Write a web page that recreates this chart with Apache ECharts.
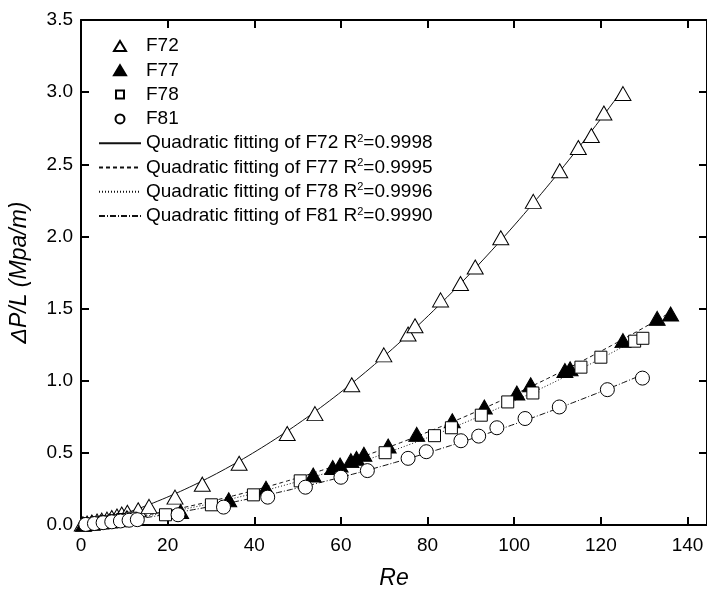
<!DOCTYPE html>
<html><head><meta charset="utf-8">
<script src="https://cdn.jsdelivr.net/npm/echarts@6/dist/echarts.min.js"></script>
<style>html,body{margin:0;padding:0;background:#fff}#c{width:707px;height:595px}</style>
</head><body><div id="c"></div>
<script>
// Data
const re72 = [0.3,1.4,2.5,3.7,4.8,6.0,7.1,8.3,9.4,10.7,13.2,15.7,21.7,28.0,36.5,47.6,54.0,62.5,69.9,75.5,77.1,83.0,87.6,91.0,96.9,104.4,110.5,114.8,117.8,120.7,125.1];
const dp72 = [0.007,0.014,0.021,0.028,0.034,0.041,0.052,0.062,0.076,0.088,0.106,0.129,0.193,0.283,0.428,0.634,0.772,0.972,1.179,1.324,1.381,1.56,1.674,1.788,1.991,2.243,2.455,2.616,2.70,2.855,2.99];
const re77 = [0.6,2.6,4.6,6.6,8.6,10.6,23.0,34.1,42.7,53.6,58.1,59.8,62.3,63.6,65.3,70.9,77.5,85.7,93.1,100.6,103.8,111.7,112.9,125.1,133.0,136.1];
const dp77 = [0.005,0.012,0.02,0.028,0.036,0.05,0.094,0.175,0.255,0.347,0.398,0.416,0.446,0.462,0.490,0.547,0.628,0.722,0.818,0.915,0.972,1.071,1.083,1.278,1.432,1.462];
const re78 = [1.6,3.6,5.6,7.6,9.6,11.6,19.5,30.1,39.8,50.6,70.2,81.6,85.5,92.4,98.5,104.3,115.4,120.0,127.8,129.7];
const dp78 = [0.008,0.015,0.022,0.03,0.038,0.047,0.071,0.140,0.209,0.306,0.501,0.619,0.674,0.761,0.853,0.915,1.094,1.163,1.274,1.294];
const re81 = [1.1,3.1,5.1,7.1,9.1,11.1,13.0,22.4,32.9,43.1,51.8,60.0,66.1,75.5,79.7,87.7,91.8,96.0,102.5,110.4,121.5,129.6];
const dp81 = [0.004,0.01,0.016,0.022,0.028,0.033,0.037,0.071,0.124,0.193,0.262,0.331,0.377,0.462,0.508,0.584,0.616,0.674,0.738,0.818,0.938,1.018];
const seriesNames = ['F72','F77','F78','F81'];
const r2Labels = ['0.9998','0.9995','0.9996','0.9990'];
const xTicks = [0,20,40,60,80,100,120,140];
const yTicks = [0,0.5,1,1.5,2,2.5,3,3.5];

// quadratic least-squares fit of the data (as stated in the legend)
function quadFit(xs, ys){
  let S=[0,0,0,0,0], T=[0,0,0];
  for(let i=0;i<xs.length;i++){
    const x=xs[i], y=ys[i];
    let p=1;
    for(let k=0;k<5;k++){S[k]+=p; if(k<3) T[k]+=p*y; p*=x;}
  }
  const A=[[S[0],S[1],S[2],T[0]],[S[1],S[2],S[3],T[1]],[S[2],S[3],S[4],T[2]]];
  for(let i=0;i<3;i++){
    for(let j=i+1;j<3;j++){const f=A[j][i]/A[i][i]; for(let k=i;k<4;k++)A[j][k]-=f*A[i][k];}
  }
  const c=[0,0,0];
  for(let i=2;i>=0;i--){let s=A[i][3]; for(let k=i+1;k<3;k++)s-=A[i][k]*c[k]; c[i]=s/A[i][i];}
  const xmax=Math.max(...xs), pts=[];
  for(let i=0;i<=120;i++){const x=xmax*i/120; pts.push([x,c[0]+c[1]*x+c[2]*x*x]);}
  return pts;
}
const zip=(a,b)=>a.map((v,i)=>[v,b[i]]);
const sets=[[re72,dp72],[re77,dp77],[re78,dp78],[re81,dp81]];
const symbols=['triangle','triangle','rect','circle'];
const fills=['#fff','#000','#fff','#fff'];
const sizes=[[16,14],[16,14],12,14];
const dashes=['solid',[4,3],[1,2],[6,2,1,2]];
const legendIcons=[
  'path://M0,0M14,14M7,2L13,12L1,12Z',
  'path://M0,0M14,14M7,2L13,12L1,12Z',
  'path://M0,0M14,14M3,3L11,3L11,11L3,11Z',
  'path://M0,0M14,14M2.5,7A4.5,4.5,0,1,1,11.5,7A4.5,4.5,0,1,1,2.5,7Z'
];

const series=[];
sets.forEach((s,i)=>{
  series.push({name:seriesNames[i],type:'scatter',data:zip(s[0],s[1]),symbol:symbols[i],symbolSize:sizes[i],
    itemStyle:{color:fills[i],borderColor:'#000',borderWidth:1,opacity:1},z:5});
});
sets.forEach((s,i)=>{
  series.push({name:'fit'+seriesNames[i],type:'line',data:quadFit(s[0],s[1]),showSymbol:false,symbol:'none',
    lineStyle:{color:'#111',width:1,type:dashes[i]},itemStyle:{color:'rgba(0,0,0,0)'},z:3,silent:true});
});

const legendData=[];
seriesNames.forEach((n,i)=>legendData.push({name:n,icon:legendIcons[i]}));
seriesNames.forEach((n,i)=>legendData.push({name:'fit'+n,itemStyle:{opacity:0}}));

const FF='Liberation Sans, Arial, sans-serif';
const chart=echarts.init(document.getElementById('c'));
const axisFont={fontFamily:FF,fontSize:19,color:'#000'};
chart.setOption({
  animation:false,
  backgroundColor:'#fff',
  grid:{left:81,top:20,bottom:68.5,right:-1.5,containLabel:false},
  legend:{
    orient:'vertical',left:98,top:36,padding:0,itemWidth:42,itemHeight:14,itemGap:4.3,itemTextGap:8,
    symbolKeepAspect:true,
    data:legendData,
    formatter:function(n){
      const i=seriesNames.indexOf(n.replace('fit',''));
      if(n.startsWith('fit')) return 'Quadratic fitting of '+seriesNames[i]+' R{sup|2}=' + r2Labels[i];
      return n;
    },
    textStyle:{fontFamily:FF,fontSize:19,color:'#000',lineHeight:20,
      rich:{sup:{fontSize:11,verticalAlign:'top',lineHeight:20,color:'#000',fontFamily:FF}}}
  },
  xAxis:[{
    type:'value',min:0,max:144.5,interval:20,position:'bottom',
    name:'Re',nameLocation:'middle',nameGap:42,
    nameTextStyle:{fontFamily:FF,fontSize:23,fontStyle:'italic',color:'#000'},
    axisLine:{show:true,onZero:false,lineStyle:{color:'#000',width:2}},
    axisTick:{show:true,inside:true,length:8,lineStyle:{color:'#000',width:2}},
    axisLabel:Object.assign({margin:11,formatter:v=>xTicks.indexOf(v)>=0?String(v):'' ,showMaxLabel:false},axisFont),
    splitLine:{show:false}
  },{
    type:'value',min:0,max:144.5,interval:20,position:'top',
    axisLine:{show:true,onZero:false,lineStyle:{color:'#000',width:2}},
    axisTick:{show:true,inside:true,length:8,lineStyle:{color:'#000',width:2}},
    axisLabel:{show:false},splitLine:{show:false}
  }],
  yAxis:[{
    type:'value',min:0,max:3.5,interval:0.5,position:'left',
    name:'ΔP/L (Mpa/m)',nameLocation:'middle',nameGap:50,
    nameTextStyle:{fontFamily:FF,fontSize:23,fontStyle:'italic',color:'#000'},
    axisLine:{show:true,onZero:false,lineStyle:{color:'#000',width:2}},
    axisTick:{show:true,inside:true,length:8,lineStyle:{color:'#000',width:2}},
    axisLabel:Object.assign({margin:8,formatter:v=>yTicks.indexOf(v)>=0?v.toFixed(1):''},axisFont),
    splitLine:{show:false}
  },{
    type:'value',min:0,max:3.5,interval:0.5,position:'right',
    axisLine:{show:true,onZero:false,lineStyle:{color:'#000',width:2}},
    axisTick:{show:true,inside:true,length:8,lineStyle:{color:'#000',width:2}},
    axisLabel:{show:false},splitLine:{show:false}
  }],
  series:series
});
</script></body></html>
